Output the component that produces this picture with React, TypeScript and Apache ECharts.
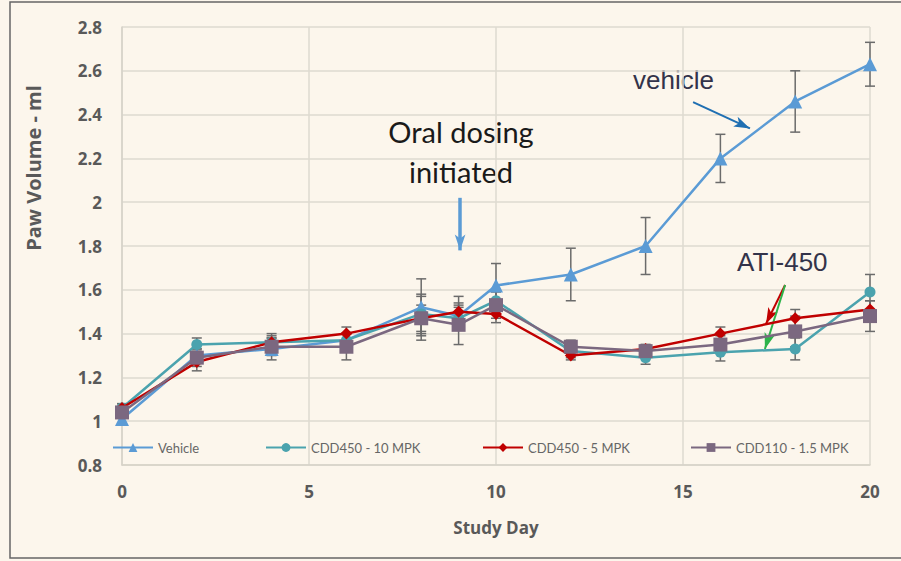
import React, { useEffect, useRef } from 'react';
import * as echarts from 'echarts';

const days = [0, 2, 4, 6, 8, 9, 10, 12, 14, 16, 18, 20];
const vehicle = [1.01, 1.30, 1.33, 1.37, 1.52, 1.48, 1.62, 1.67, 1.80, 2.20, 2.46, 2.63];
const cdd450_10 = [1.06, 1.35, 1.36, 1.37, 1.49, 1.47, 1.55, 1.32, 1.29, 1.315, 1.33, 1.59];
const cdd450_5 = [1.06, 1.27, 1.36, 1.40, 1.47, 1.50, 1.49, 1.30, 1.33, 1.40, 1.47, 1.51];
const cdd110 = [1.04, 1.29, 1.34, 1.34, 1.47, 1.44, 1.53, 1.34, 1.32, 1.35, 1.41, 1.48];

const vehicleErr = [0.02, 0.03, 0.05, 0.03, 0.13, 0.06, 0.10, 0.12, 0.13, 0.11, 0.14, 0.10];
const cdd450_10Err = [0.02, 0.03, 0.04, 0.03, 0.09, 0.05, 0.05, 0.03, 0.03, 0.04, 0.05, 0.08];
const cdd450_5Err = [0.02, 0.04, 0.03, 0.03, 0.06, 0.07, 0.04, 0.02, 0.02, 0.03, 0.04, 0.04];
const cdd110Err = [0.02, 0.04, 0.04, 0.06, 0.10, 0.09, 0.06, 0.03, 0.03, 0.04, 0.07, 0.07];

const seriesNames = ['Vehicle', 'CDD450 - 10 MPK', 'CDD450 - 5 MPK', 'CDD110 - 1.5 MPK'];
const seriesValues = [vehicle, cdd450_10, cdd450_5, cdd110];
const seriesErrors = [vehicleErr, cdd450_10Err, cdd450_5Err, cdd110Err];
const seriesColors = ['#5B9BD5', '#4BA3AE', '#C00000', '#7B6880'];
const seriesSymbols = ['triangle', 'circle', 'diamond', 'rect'];
const seriesSymbolSizes = [14, 11, 12, 14];

const yTicks = { min: 0.8, max: 2.8, interval: 0.2 };
const xTicks = { min: 0, max: 20, interval: 5 };

export default function App() {
  const ref = useRef<HTMLDivElement>(null);
  useEffect(() => {
    document.body.style.margin = '0';
    if (!ref.current) return;
    const chart = echarts.init(ref.current, null, { renderer: 'svg' });
    const errColor = '#6b6b6b';
    const errorSeries = seriesValues.map((vals, si) => ({
      type: 'custom',
      name: seriesNames[si] + ' err',
      z: 1,
      silent: true,
      data: days.map((d, i) => [d, vals[i] - seriesErrors[si][i], vals[i] + seriesErrors[si][i]]),
      encode: { x: 0, y: [1, 2] },
      renderItem: (params: any, api: any) => {
        const x = api.value(0);
        const top = api.coord([x, api.value(2)]);
        const bot = api.coord([x, api.value(1)]);
        const w = 5;
        const st = { stroke: errColor, lineWidth: 1.5 };
        return {
          type: 'group',
          children: [
            { type: 'line', shape: { x1: top[0], y1: top[1], x2: bot[0], y2: bot[1] }, style: st },
            { type: 'line', shape: { x1: top[0] - w, y1: top[1], x2: top[0] + w, y2: top[1] }, style: st },
            { type: 'line', shape: { x1: bot[0] - w, y1: bot[1], x2: bot[0] + w, y2: bot[1] }, style: st },
          ],
        };
      },
    }));

    const lineSeries: any[] = seriesValues.map((vals, si) => ({
      type: 'line',
      name: seriesNames[si],
      z: 3 + si,
      data: days.map((d, i) => [d, vals[i]]),
      symbol: seriesSymbols[si],
      symbolSize: seriesSymbolSizes[si],
      lineStyle: { color: seriesColors[si], width: 2.5 },
      itemStyle: { color: seriesColors[si] },
      color: seriesColors[si],
    }));

    lineSeries[0].markLine = {
      silent: true,
      symbol: ['none', 'arrow'],
      label: { show: false },
      lineStyle: { type: 'solid' },
      emphasis: { disabled: true },
      data: [
        [
          { coord: [9.04, 2.02], lineStyle: { color: '#5B9BD5', width: 3.5, type: 'solid' }, symbolSize: [14, 14] },
          { coord: [9.04, 1.78] },
        ],
        [
          { coord: [15.27, 2.457], lineStyle: { color: '#1F6FB2', width: 2, type: 'solid' }, symbolSize: [10, 12] },
          { coord: [16.79, 2.337] },
        ],
        [
          { coord: [17.73, 1.622], lineStyle: { color: '#C00000', width: 2, type: 'solid' }, symbolSize: [9, 11] },
          { coord: [17.22, 1.445] },
        ],
        [
          { coord: [17.73, 1.622], lineStyle: { color: '#2DB34A', width: 2, type: 'solid' }, symbolSize: [9, 11] },
          { coord: [17.19, 1.33] },
        ],
      ],
    };

    const legendLefts = [107, 260, 477, 685];
    const legends = seriesNames.map((name, i) => ({
      data: [name],
      left: legendLefts[i],
      top: 436,
      itemWidth: 40,
      itemHeight: 11,
      textStyle: { color: '#666', fontSize: 13, fontFamily: 'Lato' },
    }));

    const option: any = {
      animation: false,
      backgroundColor: '#FCF6EC',
      grid: { left: 122, right: 31, top: 27, bottom: 96 },
      xAxis: {
        type: 'value',
        min: xTicks.min,
        max: xTicks.max,
        interval: xTicks.interval,
        axisLine: { show: true, lineStyle: { color: '#D6D2C8', width: 1.5 } },
        axisTick: { show: false },
        splitLine: { show: true, lineStyle: { color: '#DEDAD0', width: 1.5 } },
        axisLabel: { color: '#595959', fontSize: 17, fontWeight: 'bold', fontFamily: 'Open Sans', margin: 18 },
      },
      yAxis: {
        type: 'value',
        min: yTicks.min,
        max: yTicks.max,
        interval: yTicks.interval,
        axisLine: { show: true, lineStyle: { color: '#D6D2C8', width: 1.5 } },
        axisTick: { show: false },
        splitLine: { show: true, lineStyle: { color: '#DEDAD0', width: 1.5 } },
        axisLabel: {
          color: '#595959', fontSize: 17, fontWeight: 'bold', fontFamily: 'Open Sans', margin: 20,
          formatter: (v: number) => String(parseFloat(v.toFixed(1))),
        },
      },
      legend: legends,
      graphic: [
        { type: 'rect', shape: { x: 10, y: 2, width: 1000, height: 556 }, style: { fill: 'none', stroke: '#666', lineWidth: 1.5 }, z: 100 },
        { type: 'text', x: 33, y: 168, rotation: Math.PI / 2, style: { text: 'Paw Volume - ml', fill: '#595959', font: 'bold 20px "Open Sans"', align: 'center', verticalAlign: 'middle' } },
        { type: 'text', x: 496, y: 527, style: { text: 'Study Day', fill: '#595959', font: 'bold 17px "Open Sans"', align: 'center', verticalAlign: 'middle' } },
        { type: 'text', x: 461, y: 131, style: { text: 'Oral dosing', fill: '#1a1a1a', font: '29px Lato', align: 'center', verticalAlign: 'middle' } },
        { type: 'text', x: 461, y: 171, style: { text: 'initiated', fill: '#1a1a1a', font: '29px Lato', align: 'center', verticalAlign: 'middle' } },
        { type: 'text', x: 633, y: 80, style: { text: 'vehicle', fill: '#33334a', font: '26px "Liberation Sans"', align: 'left', verticalAlign: 'middle' } },
        { type: 'text', x: 737, y: 262, style: { text: 'ATI-450', fill: '#33334a', font: '26px "Liberation Sans"', align: 'left', verticalAlign: 'middle' } },
      ],
      series: [...errorSeries, ...lineSeries],
    };
    chart.setOption(option);
    return () => chart.dispose();
  }, []);
  return <div ref={ref} style={{ width: 901, height: 561 }} />;
}
